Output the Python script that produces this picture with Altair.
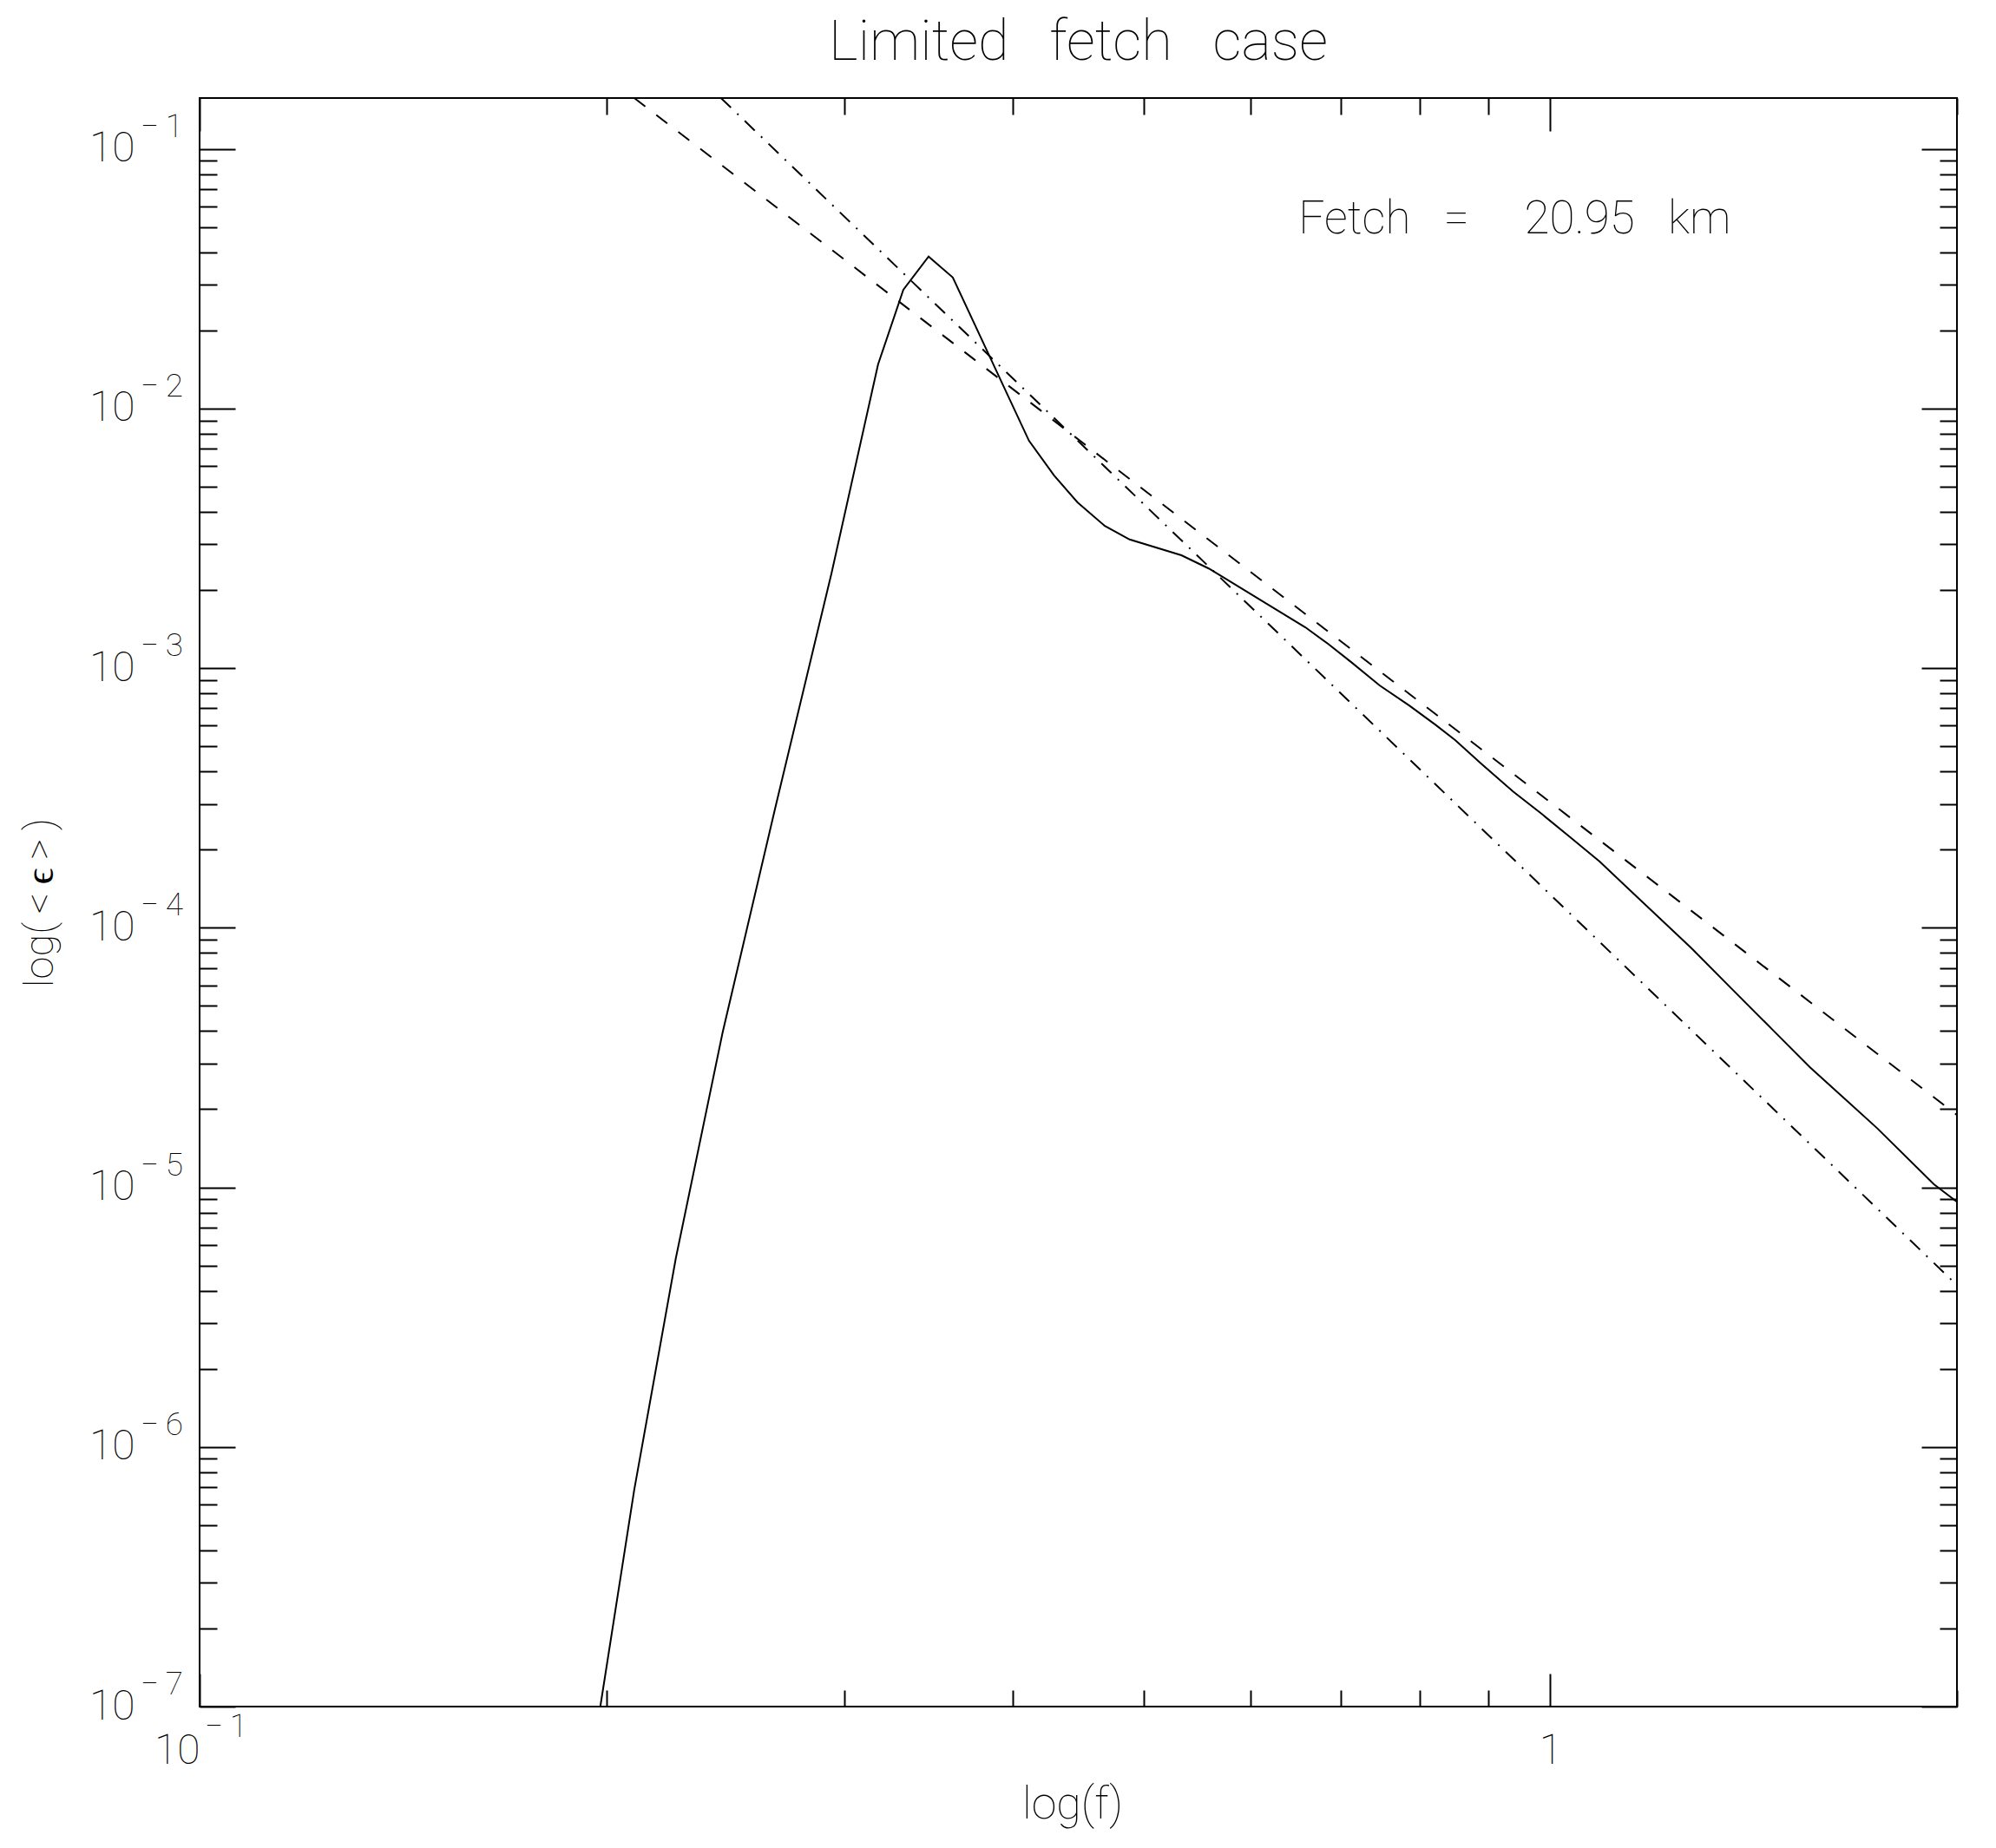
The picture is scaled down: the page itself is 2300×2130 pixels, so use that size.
import altair as alt
import pandas as pd

# ---------------- data ----------------
# measured spectrum (solid line)
spec_f = [0.198, 0.2098, 0.2252, 0.2439, 0.2669, 0.2937, 0.3179, 0.3319, 0.3465,
          0.3611, 0.4112, 0.4292, 0.4466, 0.4676, 0.4881, 0.5332, 0.5586, 0.6586,
          0.6845, 0.7121, 0.7475, 0.7861, 0.8218, 0.8502, 0.8885, 0.9384, 0.9853,
          1.0345, 1.0877, 1.1762, 1.2722, 1.3632, 1.4611, 1.557, 1.745, 1.923, 2.0]
spec_v = [1.0e-7, 6.85e-7, 5.33e-6, 3.95e-5, 2.92e-4, 2.33e-3, 1.479e-2, 2.866e-2, 3.847e-2,
          3.196e-2, 7.51e-3, 5.52e-3, 4.35e-3, 3.54e-3, 3.13e-3, 2.72e-3, 2.42e-3, 1.436e-3,
          1.241e-3, 1.055e-3, 8.58e-4, 7.18e-4, 6.06e-4, 5.28e-4, 4.29e-4, 3.35e-4, 2.745e-4,
          2.23e-4, 1.798e-4, 1.224e-4, 8.33e-5, 5.80e-5, 4.04e-5, 2.90e-5, 1.693e-5, 1.027e-5, 8.80e-6]

# f^-4 reference line (dashed), end points
dash_f = [0.2098, 2.0]
dash_v = [0.157, 1.9e-5]

# f^-5 reference line (dash-dot), end points
dd_f = [0.2432, 2.0]
dd_v = [0.157, 4.2e-6]

# annotation
note_f = [0.651]
note_v = [0.04725]
note_t = ["Fetch\u00a0\u00a0\u00a0=\u00a0\u00a0\u00a0\u00a0\u00a020.95\u00a0\u00a0\u00a0km"]

# ticks
x_major = [0.1, 1.0]
x_minor = [0.2, 0.3, 0.4, 0.5, 0.6, 0.7, 0.8, 0.9, 2.0]
x_exp_vals = [0.1]
x_exp_text = ["\u2212\u20091"]

y_major = [1e-7, 1e-6, 1e-5, 1e-4, 1e-3, 1e-2, 1e-1]
y_exp_text = ["\u2212\u20097", "\u2212\u20096", "\u2212\u20095", "\u2212\u20094",
              "\u2212\u20093", "\u2212\u20092", "\u2212\u20091"]
y_minor = [2e-7, 3e-7, 4e-7, 5e-7, 6e-7, 7e-7, 8e-7, 9e-7,
           2e-6, 3e-6, 4e-6, 5e-6, 6e-6, 7e-6, 8e-6, 9e-6,
           2e-5, 3e-5, 4e-5, 5e-5, 6e-5, 7e-5, 8e-5, 9e-5,
           2e-4, 3e-4, 4e-4, 5e-4, 6e-4, 7e-4, 8e-4, 9e-4,
           2e-3, 3e-3, 4e-3, 5e-3, 6e-3, 7e-3, 8e-3, 9e-3,
           2e-2, 3e-2, 4e-2, 5e-2, 6e-2, 7e-2, 8e-2, 9e-2]

# ---------------- chart ----------------
W, H = 2025, 1854
FONT = "Roboto"
FW = 100

xs = alt.Scale(type="log", domain=[0.1, 2.0], nice=False)
ys = alt.Scale(type="log", domain=[1e-7, 0.157], nice=False)

spec_df = pd.DataFrame({"f": spec_f, "v": spec_v})
dash_df = pd.DataFrame({"f": dash_f, "v": dash_v})
dd_df = pd.DataFrame({"f": dd_f, "v": dd_v})
note_df = pd.DataFrame({"f": note_f, "v": note_v, "t": note_t})
yexp_df = pd.DataFrame({"v": y_major, "t": y_exp_text})
xexp_df = pd.DataFrame({"f": x_exp_vals, "t": x_exp_text})


def tick_axis(orient, offset, values, size):
    return alt.Axis(orient=orient, offset=offset, values=values, tickSize=size,
                    tickWidth=2, tickColor="black", ticks=True, labels=False,
                    domain=False, grid=False, title=None)


x_label_axis = alt.Axis(
    orient="bottom", values=x_major,
    labelExpr="datum.value < 0.5 ? '10' : '1'",
    ticks=False, tickSize=0, domain=False, grid=False,
    labelPadding=27, labelBaseline="top",
    labelAlign={"condition": {"test": "datum.value < 0.5", "value": "right"}, "value": "center"},
    labelFlush=False, labelOverlap=False, labelBound=False,
    labelFont=FONT, labelFontSize=48, labelFontWeight=FW, labelColor="black",
    title="log(f)", titleFont=FONT, titleFontSize=52, titleFontWeight=FW,
    titleColor="black", titleX=W / 2 - 7, titleY=128,
    titleBaseline="alphabetic", titleAlign="center",
)

y_label_axis = alt.Axis(
    orient="left", values=y_major, labelExpr="'10'",
    ticks=False, tickSize=0, domain=False, grid=False,
    labelPadding=75, labelBaseline="middle", labelAlign="right",
    labelFlush=False, labelOverlap=False, labelBound=False,
    labelFont=FONT, labelFontSize=48, labelFontWeight=FW, labelColor="black",
    title="log(\u2009<\u2009\u03f5\u2009>\u2009)", titleFont=FONT, titleFontSize=47, titleFontWeight=FW,
    titleColor="black", titleAngle=270, titleX=-170, titleY=H / 2,
    titleBaseline="alphabetic", titleAlign="center",
)

solid = alt.Chart(spec_df).mark_line(color="black", strokeWidth=2, clip=True).encode(
    x=alt.X("f:Q", scale=xs, axis=x_label_axis),
    y=alt.Y("v:Q", scale=ys, axis=y_label_axis),
)

dashed = alt.Chart(dash_df).mark_line(color="black", strokeWidth=2, strokeDash=[16, 16], clip=True).encode(
    x=alt.X("f:Q", scale=xs, axis=tick_axis("top", -H, x_major, 38)),
    y=alt.Y("v:Q", scale=ys, axis=tick_axis("right", -W, y_major, 41)),
)

dashdot = alt.Chart(dd_df).mark_line(color="black", strokeWidth=2, strokeDash=[16, 10, 2, 10], clip=True).encode(
    x=alt.X("f:Q", scale=xs, axis=tick_axis("bottom", -H, x_major, 38)),
    y=alt.Y("v:Q", scale=ys, axis=tick_axis("left", -W, y_major, 41)),
)

note = alt.Chart(note_df).mark_text(
    align="left", baseline="alphabetic", font=FONT, fontSize=53, fontWeight=FW, color="black"
).encode(
    x=alt.X("f:Q", scale=xs, axis=tick_axis("top", -H, x_minor, 19)),
    y=alt.Y("v:Q", scale=ys, axis=tick_axis("right", -W, y_minor, 20)),
    text="t:N",
)

yexp = alt.Chart(yexp_df).mark_text(
    align="left", baseline="alphabetic", dy=-14, font=FONT, fontSize=37, fontWeight=FW, color="black"
).encode(
    y=alt.Y("v:Q", scale=ys, axis=tick_axis("left", -W, y_minor, 20)),
    x=alt.value(-68),
    text="t:N",
)

xexp = alt.Chart(xexp_df).mark_text(
    align="left", baseline="alphabetic", dx=6, font=FONT, fontSize=37, fontWeight=FW, color="black"
).encode(
    x=alt.X("f:Q", scale=xs, axis=tick_axis("bottom", -H, x_minor, 19)),
    y=alt.value(H + 35),
    text="t:N",
)

chart = alt.layer(solid, dashed, dashdot, note, yexp, xexp).resolve_axis(
    x="independent", y="independent"
).properties(
    width=W, height=H,
    title=alt.Title("Limited\u00a0\u00a0\u00a0fetch\u00a0\u00a0\u00a0case", font=FONT, fontSize=65,
                    fontWeight=FW, color="black", anchor="middle", frame="group",
                    baseline="alphabetic", offset=-22),
    autosize=alt.AutoSizeParams(type="none"),
    padding={"left": 222, "top": 105, "right": 30, "bottom": 150},
).configure_view(stroke="black", strokeWidth=2)

chart.save("out.html", embed_options={"renderer": "svg", "actions": False})
